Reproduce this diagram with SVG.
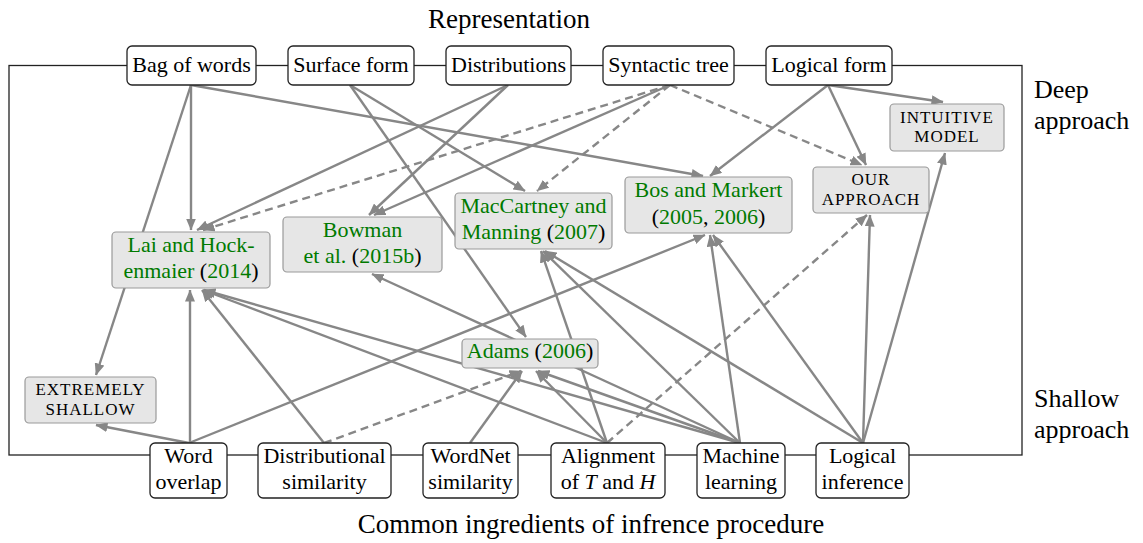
<svg xmlns="http://www.w3.org/2000/svg" width="1143" height="543" viewBox="0 0 1143 543">
  <defs>
    <marker id="ah" viewBox="0 0 12 10" refX="11.5" refY="5" markerWidth="12" markerHeight="10" markerUnits="userSpaceOnUse" orient="auto">
      <path d="M0,0 L12,5 L0,10 z" fill="#878787"/>
    </marker>
    <style>
      .e { stroke: #878787; stroke-width: 2.4; fill: none; marker-end: url(#ah); }
      .d { stroke-dasharray: 8 5; }
      .frame { stroke: #222; stroke-width: 1.3; fill: none; }
      .box { fill: #fff; stroke: #222; stroke-width: 1.3; }
      .ref { fill: #e6e6e6; stroke: #9a9a9a; stroke-width: 1.2; }
      text { font-family: "Liberation Serif", "Times New Roman", serif; font-size: 22px; fill: #000; text-anchor: middle; }
      .g { fill: #007a00; }
      .sc { font-size: 17px; letter-spacing: 1px; }
      .big { font-size: 27px; }
      .side { font-size: 26px; text-anchor: start; }
      .it { font-style: italic; }
    </style>
  </defs>

  <rect fill="#fff" width="1143" height="543"/>

  <!-- axis labels -->
  <text class="big" x="509" y="28">Representation</text>
  <text class="big" x="591" y="533">Common ingredients of infrence procedure</text>
  <text class="side" x="1034" y="98">Deep</text>
  <text class="side" x="1034" y="129">approach</text>
  <text class="side" x="1034" y="407">Shallow</text>
  <text class="side" x="1034" y="438">approach</text>

  <!-- outer frame joining the two rows -->
  <rect class="frame" x="9" y="65.5" width="1013" height="389.5"/>

  <g id="connectors">
    <!-- from representations -->
    <line class="e" x1="191" y1="85" x2="191" y2="230"/>
    <line class="e" x1="191" y1="85" x2="96" y2="375"/>
    <line class="e" x1="191" y1="85" x2="703" y2="176"/>
    <line class="e" x1="350" y1="85" x2="525" y2="191"/>
    <line class="e" x1="350" y1="85" x2="526" y2="337"/>
    <line class="e" x1="508" y1="85" x2="197" y2="230"/>
    <line class="e" x1="508" y1="85" x2="369" y2="215"/>
    <line class="e d" x1="670" y1="85" x2="203" y2="230"/>
    <line class="e" x1="670" y1="85" x2="374" y2="215"/>
    <line class="e d" x1="670" y1="85" x2="537" y2="191"/>
    <line class="e d" x1="670" y1="85" x2="862" y2="165"/>
    <line class="e" x1="828" y1="85" x2="710" y2="176"/>
    <line class="e" x1="828" y1="85" x2="866" y2="165"/>
    <line class="e" x1="828" y1="85" x2="943" y2="102"/>
    <!-- from inference ingredients -->
    <line class="e" x1="189" y1="443" x2="96" y2="425"/>
    <line class="e" x1="190" y1="443" x2="190" y2="290"/>
    <line class="e" x1="189" y1="443" x2="705" y2="235"/>
    <line class="e" x1="324" y1="443" x2="202" y2="290"/>
    <line class="e d" x1="324" y1="443" x2="521" y2="371"/>
    <line class="e" x1="470" y1="443" x2="522" y2="371"/>
    <line class="e" x1="607" y1="443" x2="203" y2="290"/>
    <line class="e" x1="607" y1="443" x2="536" y2="371"/>
    <line class="e" x1="607" y1="443" x2="541" y2="251"/>
    <line class="e d" x1="607" y1="443" x2="867" y2="215"/>
    <line class="e" x1="740" y1="443" x2="204" y2="290"/>
    <line class="e" x1="740" y1="443" x2="372" y2="274"/>
    <line class="e" x1="740" y1="443" x2="538" y2="371"/>
    <line class="e" x1="740" y1="443" x2="543" y2="251"/>
    <line class="e" x1="740" y1="443" x2="710" y2="235"/>
    <line class="e" x1="863" y1="443" x2="545" y2="251"/>
    <line class="e" x1="863" y1="443" x2="713" y2="235"/>
    <line class="e" x1="863" y1="443" x2="870" y2="215"/>
    <line class="e" x1="863" y1="443" x2="945" y2="153"/>
  </g>

  <!-- representation row -->
  <g id="bag-of-words"><rect class="box" x="127" y="46" width="129" height="39" rx="5"/><text x="191.5" y="72">Bag of words</text></g>
  <g id="surface-form"><rect class="box" x="288" y="46" width="126" height="39" rx="5"/><text x="351" y="72">Surface form</text></g>
  <g id="distributions"><rect class="box" x="446" y="46" width="125" height="39" rx="5"/><text x="508.5" y="72">Distributions</text></g>
  <g id="syntactic-tree"><rect class="box" x="603" y="46" width="131" height="39" rx="5"/><text x="668.5" y="72">Syntactic tree</text></g>
  <g id="logical-form"><rect class="box" x="766" y="46" width="126" height="39" rx="5"/><text x="829" y="72">Logical form</text></g>

  <!-- ingredient row -->
  <g id="word-overlap"><rect class="box" x="150" y="443" width="77" height="55" rx="5"/><text x="188.5" y="463">Word</text><text x="188.5" y="489">overlap</text></g>
  <g id="distributional-similarity"><rect class="box" x="258" y="443" width="133" height="55" rx="5"/><text x="324.5" y="463">Distributional</text><text x="324.5" y="489">similarity</text></g>
  <g id="wordnet-similarity"><rect class="box" x="423" y="443" width="95" height="55" rx="5"/><text x="470.5" y="463">WordNet</text><text x="470.5" y="489">similarity</text></g>
  <g id="alignment"><rect class="box" x="551" y="443" width="114" height="55" rx="5"/><text x="608" y="463">Alignment</text><text x="608" y="489">of <tspan class="it">T</tspan> and <tspan class="it">H</tspan></text></g>
  <g id="machine-learning"><rect class="box" x="697" y="443" width="88" height="55" rx="5"/><text x="741" y="463">Machine</text><text x="741" y="489">learning</text></g>
  <g id="logical-inference"><rect class="box" x="816" y="443" width="93" height="55" rx="5"/><text x="862.5" y="463">Logical</text><text x="862.5" y="489">inference</text></g>

  <!-- approaches -->
  <g id="intuitive-model"><rect class="ref" x="890" y="104" width="114" height="47" rx="4"/><text class="sc" x="947" y="123">INTUITIVE</text><text class="sc" x="947" y="142">MODEL</text></g>
  <g id="our-approach"><rect class="ref" x="813" y="167" width="116" height="46" rx="4"/><text class="sc" x="871" y="185">OUR</text><text class="sc" x="871" y="205">APPROACH</text></g>
  <g id="bos-markert"><rect class="ref" x="625" y="177" width="167" height="56" rx="4"/><text x="708.5" y="197"><tspan class="g">Bos and Markert</tspan></text><text x="708.5" y="224">(<tspan class="g">2005</tspan>, <tspan class="g">2006</tspan>)</text></g>
  <g id="maccartney-manning"><rect class="ref" x="455" y="193" width="157" height="56" rx="4"/><text x="533.5" y="213"><tspan class="g">MacCartney and</tspan></text><text x="533.5" y="239"><tspan class="g">Manning</tspan> (<tspan class="g">2007</tspan>)</text></g>
  <g id="bowman"><rect class="ref" x="283" y="217" width="159" height="55" rx="4"/><text x="362.5" y="237"><tspan class="g">Bowman</tspan></text><text x="362.5" y="263"><tspan class="g">et al.</tspan> (<tspan class="g">2015b</tspan>)</text></g>
  <g id="lai-hockenmaier"><rect class="ref" x="112" y="232" width="158" height="56" rx="4"/><text x="191" y="252"><tspan class="g">Lai and Hock-</tspan></text><text x="191" y="278"><tspan class="g">enmaier</tspan> (<tspan class="g">2014</tspan>)</text></g>
  <g id="adams"><rect class="ref" x="462" y="339" width="136" height="29" rx="4"/><text x="530" y="358"><tspan class="g">Adams</tspan> (<tspan class="g">2006</tspan>)</text></g>
  <g id="extremely-shallow"><rect class="ref" x="25" y="377" width="131" height="46" rx="4"/><text class="sc" x="90.5" y="395">EXTREMELY</text><text class="sc" x="90.5" y="415">SHALLOW</text></g>
</svg>
